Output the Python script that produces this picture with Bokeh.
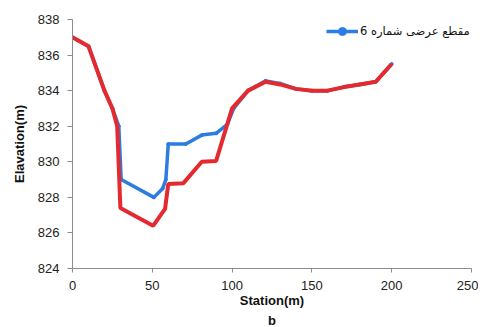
from bokeh.plotting import figure
from bokeh.models import Range1d, FixedTicker, Legend, LegendItem, Title
from bokeh.embed import file_html
from bokeh.resources import INLINE

# Data
blue_x = [0, 10, 20, 25, 29, 30.5, 51, 56.5, 58.5, 60, 71, 81, 90, 97, 101, 110, 121, 130, 140, 150, 160, 170, 180, 190, 200]
blue_y = [837, 836.5, 834, 833, 832, 829, 828, 828.5, 829, 831, 831, 831.5, 831.6, 832.1, 833, 834, 834.55, 834.4, 834.1, 834, 834, 834.2, 834.35, 834.5, 835.5]
red_x = [0, 10, 20, 25, 28, 30, 50.5, 58, 60, 69.5, 81, 90, 100, 110, 121, 130, 140, 150, 160, 170, 180, 190, 200]
red_y = [837, 836.5, 834, 833, 832, 827.4, 826.4, 827.35, 828.75, 828.8, 830, 830.05, 833, 834, 834.5, 834.35, 834.1, 834, 834, 834.2, 834.35, 834.5, 835.5]
x_ticks = [0, 50, 100, 150, 200, 250]
y_ticks = [824, 826, 828, 830, 832, 834, 836, 838]
legend_label = "مقطع عرضی شماره 6"

p = figure(width=478, height=327, output_backend="svg", toolbar_location=None,
           x_range=Range1d(0, 250), y_range=Range1d(824, 838),
           min_border_left=72, min_border_right=7, min_border_top=19, min_border_bottom=0)
p.outline_line_color = None
p.xgrid.visible = False
p.ygrid.visible = False

blue_line = p.line(blue_x, blue_y, line_color="#2b7de1", line_width=3.5)
blue_pts = p.scatter(blue_x, blue_y, size=3, color="#2b7de1")
p.line(red_x, red_y, line_color="#e52a2f", line_width=4)

font = "Liberation Sans"
for ax in (p.xaxis[0], p.yaxis[0]):
    ax.axis_line_color = "#8c8c8c"
    ax.major_tick_line_color = "#8c8c8c"
    ax.minor_tick_line_color = None
    ax.major_tick_in = 0
    ax.major_tick_out = 5
    ax.major_label_text_font = font
    ax.major_label_text_font_size = "13px"
    ax.major_label_text_color = "#222222"
    ax.axis_label_text_font = font
    ax.axis_label_text_font_size = "13px"
    ax.axis_label_text_font_style = "bold"
    ax.axis_label_text_color = "#111111"

p.xaxis.major_tick_out = 4
p.xaxis.ticker = FixedTicker(ticks=x_ticks)
p.yaxis.ticker = FixedTicker(ticks=y_ticks)
p.xaxis.axis_label = "Station(m)"
p.yaxis.axis_label = "Elavation(m)"
p.xaxis.major_label_standoff = 8
p.yaxis.major_label_standoff = 8
p.xaxis.axis_label_standoff = 0
p.yaxis.axis_label_standoff = 8

legend = Legend(items=[LegendItem(label=legend_label, renderers=[blue_line, blue_pts])],
                location=(254, 227), glyph_width=32, glyph_height=20, label_standoff=2,
                padding=0, margin=0, border_line_color=None, background_fill_alpha=0,
                label_text_font="DejaVu Sans", label_text_font_size="11.5px",
                label_text_color="#111111")
p.add_layout(legend)

p.add_layout(Title(text="b", align="center", text_font=font, text_font_size="13px",
                   text_font_style="bold", text_color="#111111", standoff=0, offset=0),
             "below")

open("out.html", "w").write(file_html(p, INLINE))
